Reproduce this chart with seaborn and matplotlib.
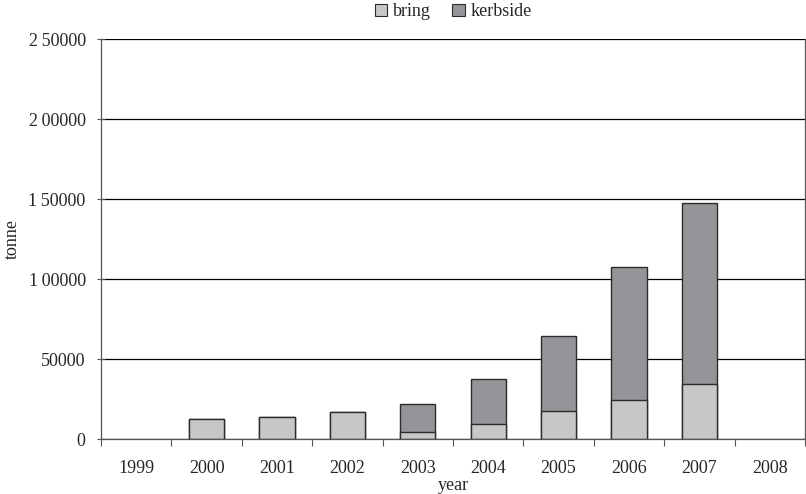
import pandas as pd
import numpy as np
import matplotlib
matplotlib.use('Agg')
import matplotlib.pyplot as plt
from matplotlib.patches import Patch
import seaborn as sns

#%% data
years = ['1999', '2000', '2001', '2002', '2003', '2004', '2005', '2006', '2007', '2008']
bring = [0, 12500, 14000, 17000, 4600, 9600, 17700, 24600, 34400, 0]
kerbside = [0, 0, 0, 0, 17100, 27900, 46900, 83100, 112900, 0]
ytick_vals = [0, 50000, 100000, 150000, 200000, 250000]
ytick_labels = ['0', '50000', '1\u200900000', '1\u200950000', '2\u200900000', '2\u200950000']

df = pd.DataFrame({'year': years, 'bring': bring, 'kerbside': kerbside})
df['total'] = df.bring + df.kerbside

col_bring = '#c6c7c9'
col_kerb = '#939598'
edge = '#2b2b2b'

#%% plot
sns.set_style('white')
plt.rcParams['font.family'] = ['Liberation Serif', 'DejaVu Serif']

fig = plt.figure(figsize=(8.06, 4.94), dpi=100)
ax = fig.add_axes([101/806, 55/494, 704/806, 400/494])

sns.barplot(data=df, x='year', y='total', color=col_kerb, width=0.5, edgecolor=edge,
            linewidth=1, saturation=1, ax=ax)
sns.barplot(data=df, x='year', y='bring', color=col_bring, width=0.5, edgecolor=edge,
            linewidth=1, saturation=1, ax=ax)
# hide zero-height bars
for p in ax.patches:
    if p.get_height() == 0:
        p.set_visible(False)

ax.set_ylim(0, 250000)
ax.set_xlim(-0.5, 9.5)
ax.set_yticks(ytick_vals)
ax.set_yticklabels(ytick_labels)
ax.yaxis.grid(True, color='black', linewidth=0.9)
ax.set_axisbelow(True)
ax.tick_params(axis='y', length=6, width=0.8, color='#555555', labelsize=13, left=True,
               direction='inout', pad=8)
ax.tick_params(axis='x', which='major', length=0, labelsize=13, pad=15)
ax.set_xticks(np.arange(-0.5, 9.6, 1), minor=True)
ax.tick_params(axis='x', which='minor', length=5, width=0.8, color='#555555', bottom=True)
for s in ax.spines.values():
    s.set_color('#555555')
    s.set_linewidth(0.9)
ax.spines['top'].set_visible(False)

ax.set_xlabel('year', fontsize=13)
ax.xaxis.set_label_coords(0.5, -(485 - 439) / 400, transform=ax.transAxes)
ax.xaxis.label.set_va('center')
ax.set_ylabel('tonne', fontsize=13)
ax.yaxis.set_label_coords(-(101 - 12) / 704, 0.5, transform=ax.transAxes)
ax.yaxis.label.set_va('center')

handles = [Patch(facecolor=col_bring, edgecolor=edge, linewidth=0.8, label='bring'),
           Patch(facecolor=col_kerb, edgecolor=edge, linewidth=0.8, label='kerbside')]
fig.legend(handles=handles, loc='center', bbox_to_anchor=(453 / 806, 1 - 12 / 494), ncol=2,
           frameon=False, fontsize=13, handlelength=0.7, handleheight=0.7,
           handletextpad=0.3, columnspacing=1.2, borderaxespad=0)

fig.savefig('out.png', dpi=100)
